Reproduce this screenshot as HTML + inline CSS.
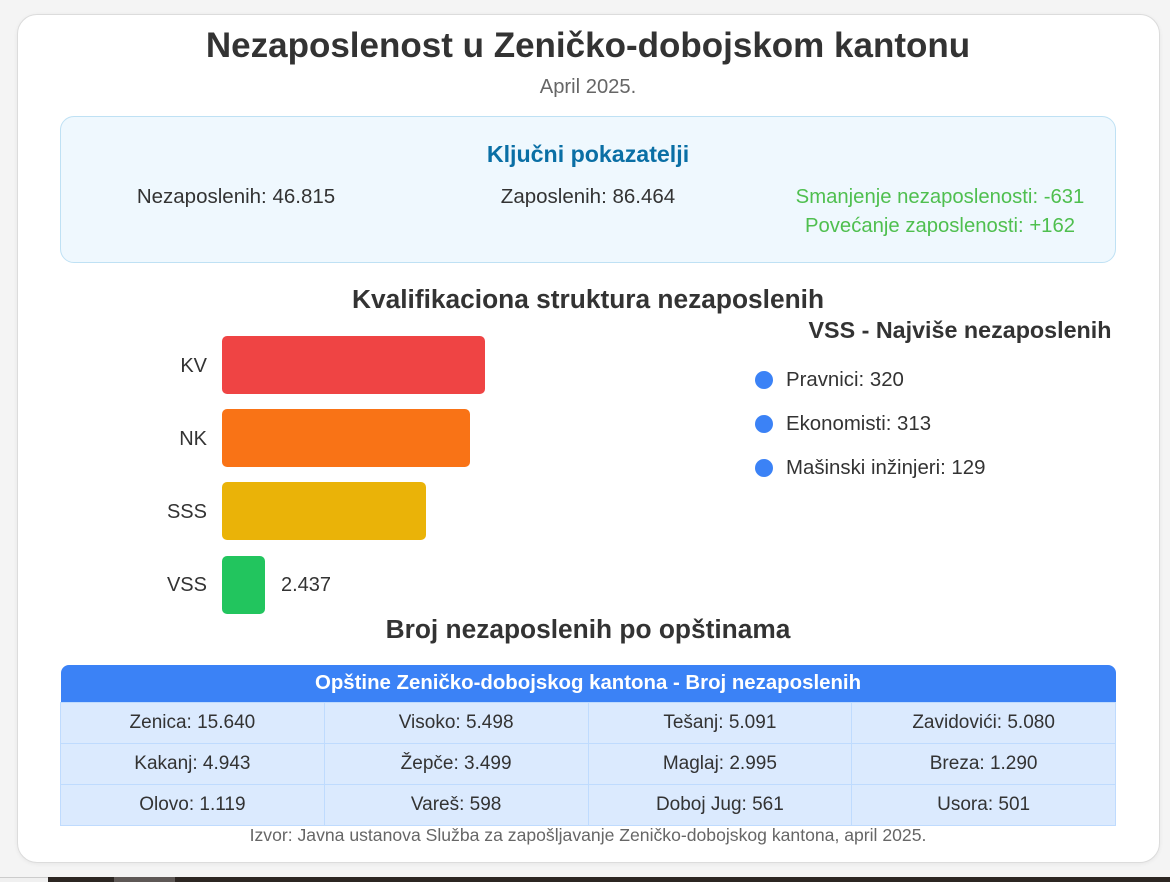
<!DOCTYPE html>
<html><head><meta charset="utf-8"><style>
*{margin:0;padding:0;box-sizing:border-box}
html,body{width:1170px;height:882px;overflow:hidden;background:#f4f4f4;font-family:"Liberation Sans",Arial,sans-serif;color:#333}
.abs{position:absolute}
.card{position:absolute;left:17px;top:14px;width:1143px;height:849px;background:#fff;border:1px solid #dcdcdc;border-radius:20px;box-shadow:0 1px 4px rgba(0,0,0,0.06)}
.c{text-align:center;white-space:nowrap}
.key{position:absolute;left:60px;top:116px;width:1056px;height:147px;background:#eff8fe;border:1px solid #bfe1f4;border-radius:14px}
.bar{position:absolute;left:222px;height:58px;border-radius:5px}
.lbl{position:absolute;right:963px;font-size:20px;line-height:24px;text-align:right}
.dot{position:absolute;left:755px;width:18px;height:18px;border-radius:50%;background:#3b82f6}
.bt{position:absolute;left:786px;font-size:20.4px;line-height:24px;white-space:nowrap}
table{position:absolute;left:60px;top:665px;width:1056px;border-collapse:collapse;table-layout:fixed}
th{background:#3b82f6;color:#fff;font-weight:bold;font-size:20.4px;height:37px;border-radius:8px 8px 0 0}
td{background:#dbeafe;border:1px solid #bfdbfe;height:41px;text-align:center;font-size:19px;color:#333}
.strip{position:absolute;left:0;top:877px;width:1170px;height:5px;background:#2c2622}
</style></head><body>
<div class="card"></div>
<div class="abs c" style="left:0;width:1176px;top:25px;font-size:35px;line-height:42px;font-weight:bold;color:#333">Nezaposlenost u Zeničko-dobojskom kantonu</div>
<div class="abs c" style="left:0;width:1176px;top:76px;font-size:20.2px;line-height:23px;color:#666">April 2025.</div>
<div class="key"></div>
<div class="abs c" style="left:60px;width:1056px;top:141px;font-size:23.2px;line-height:26px;font-weight:bold;color:#0a6fa5">Ključni pokazatelji</div>
<div class="abs c" style="left:60px;width:352px;top:185px;font-size:20.5px;line-height:24px">Nezaposlenih: 46.815</div>
<div class="abs c" style="left:412px;width:352px;top:185px;font-size:20.5px;line-height:24px">Zaposlenih: 86.464</div>
<div class="abs c" style="left:764px;width:352px;top:185px;font-size:20.3px;line-height:24px;color:#4fbf4f">Smanjenje nezaposlenosti: -631</div>
<div class="abs c" style="left:764px;width:352px;top:214px;font-size:20.3px;line-height:24px;color:#4fbf4f">Povećanje zaposlenosti: +162</div>

<div class="abs c" style="left:0;width:1176px;top:285px;font-size:26.3px;line-height:28px;font-weight:bold">Kvalifikaciona struktura nezaposlenih</div>

<div class="lbl" style="top:354px">KV</div>
<div class="bar" style="top:336px;width:263px;background:#ef4444"></div>
<div class="lbl" style="top:427px">NK</div>
<div class="bar" style="top:409px;width:248px;background:#f97316"></div>
<div class="lbl" style="top:500px">SSS</div>
<div class="bar" style="top:482px;width:204px;background:#eab308"></div>
<div class="lbl" style="top:573px">VSS</div>
<div class="bar" style="top:556px;width:43px;background:#22c55e"></div>
<div class="abs" style="left:281px;top:573px;font-size:20px;line-height:24px">2.437</div>

<div class="abs c" style="left:808px;width:304px;top:317px;font-size:23.3px;line-height:26px;font-weight:bold">VSS - Najviše nezaposlenih</div>
<div class="dot" style="top:371px"></div><div class="bt" style="top:368px">Pravnici: 320</div>
<div class="dot" style="top:415px"></div><div class="bt" style="top:412px">Ekonomisti: 313</div>
<div class="dot" style="top:459px"></div><div class="bt" style="top:456px">Mašinski inžinjeri: 129</div>

<div class="abs c" style="left:0;width:1176px;top:615px;font-size:26.3px;line-height:28px;font-weight:bold">Broj nezaposlenih po opštinama</div>

<table>
<tr><th colspan="4">Opštine Zeničko-dobojskog kantona - Broj nezaposlenih</th></tr>
<tr><td>Zenica: 15.640</td><td>Visoko: 5.498</td><td>Tešanj: 5.091</td><td>Zavidovići: 5.080</td></tr>
<tr><td>Kakanj: 4.943</td><td>Žepče: 3.499</td><td>Maglaj: 2.995</td><td>Breza: 1.290</td></tr>
<tr><td>Olovo: 1.119</td><td>Vareš: 598</td><td>Doboj Jug: 561</td><td>Usora: 501</td></tr>
</table>
<div class="abs c" style="left:0;width:1176px;top:825px;font-size:17.6px;line-height:20px;color:#666">Izvor: Javna ustanova Služba za zapošljavanje Zeničko-dobojskog kantona, april 2025.</div>

<div class="strip"></div>
<div class="abs" style="left:0;top:877px;width:48px;height:5px;background:#f0f0f0;border-top:1px solid #ccc"></div>
<div class="abs" style="left:114px;top:877px;width:61px;height:5px;background:#5e5856"></div>
</body></html>
